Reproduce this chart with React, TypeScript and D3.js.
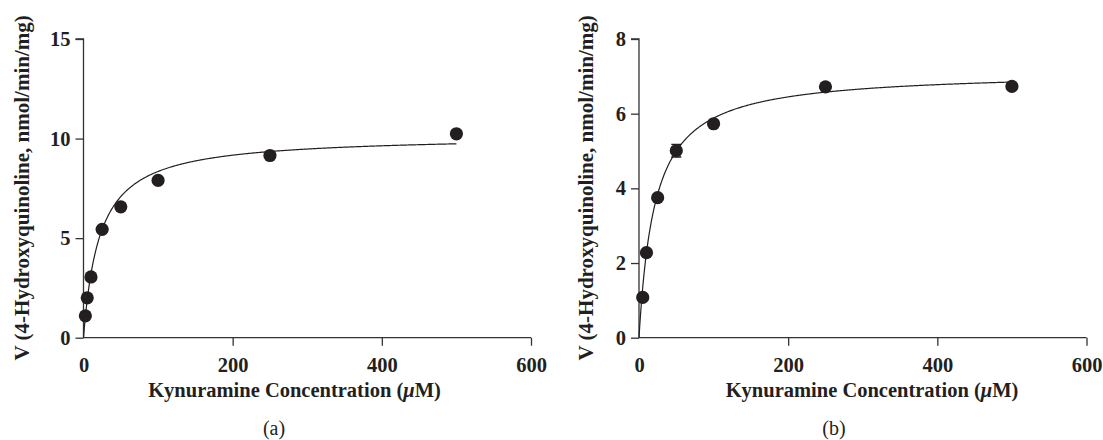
import React, {useEffect, useRef} from 'react';
import * as d3 from 'd3';

// Panel (a)
const concA = [2.5, 5, 10, 25, 50, 100, 250, 500];
const rateA = [1.1, 2.0, 3.05, 5.44, 6.57, 7.9, 9.15, 10.24];
const fitA = {vmax: 10.16, km: 21.7};

// Panel (b)
const concB = [5, 10, 25, 50, 100, 250, 500];
const rateB = [1.08, 2.28, 3.75, 5.01, 5.73, 6.72, 6.73];
const errB = [0, 0, 0, 0.17, 0, 0, 0];
const fitB = {vmax: 7.14, km: 21.4};

const xTicks = [0, 200, 400, 600];
const yTicksA = [0, 5, 10, 15];
const yTicksB = [0, 2, 4, 6, 8];

const FONT = '"Liberation Serif", "DejaVu Serif", serif';
const INK = '#231f20';
const FS = 20.5;

type Panel = {
    conc: number[];
    rate: number[];
    err: number[];
    fit: {vmax: number; km: number};
    yMax: number;
    yTicks: number[];
    left: number;
    yLabelOff: number;
    xLabelX: number;
    tag: string;
    tagX: number;
};

const panels: Panel[] = [
    {conc: concA, rate: rateA, err: concA.map(() => 0), fit: fitA, yMax: 15, yTicks: yTicksA,
        left: 83.5, yLabelOff: 61.5, xLabelX: 294.5, tag: '(a)', tagX: 274},
    {conc: concB, rate: rateB, err: errB, fit: fitB, yMax: 8, yTicks: yTicksB,
        left: 639, yLabelOff: 53, xLabelX: 872, tag: '(b)', tagX: 834},
];

const App = () => {
    const svgRef = useRef<SVGSVGElement>(null);

    useEffect(() => {
        const svg = d3.select(svgRef.current);
        svg.selectAll('*').remove();

        const top = 39;
        const bottom = 337.7;
        const plotW = 447.5;

        panels.forEach(p => {
            const x = d3.scaleLinear().domain([0, 600]).range([p.left, p.left + plotW]);
            const y = d3.scaleLinear().domain([0, p.yMax]).range([bottom, top]);
            const g = svg.append('g');

            // axes
            const yAxis = g.append('g')
                .attr('transform', `translate(${p.left},0)`)
                .call(d3.axisLeft(y).tickValues(p.yTicks).tickSize(8).tickPadding(5).tickFormat(d3.format('d')));
            const xAxis = g.append('g')
                .attr('transform', `translate(0,${bottom})`)
                .call(d3.axisBottom(x).tickValues(xTicks).tickSize(8).tickPadding(12).tickFormat(d3.format('d')));
            [yAxis, xAxis].forEach(ax => {
                ax.selectAll('path').attr('stroke', '#333').attr('stroke-width', 1.3);
                ax.selectAll('line').attr('stroke', '#333').attr('stroke-width', 1.3);
                ax.selectAll('text')
                    .attr('font-family', FONT)
                    .attr('font-weight', 'bold')
                    .attr('font-size', FS)
                    .attr('fill', INK);
            });
            xAxis.select('path').attr('d', `M${p.left},0H${p.left + plotW}`);
            xAxis.selectAll('.tick').filter((d: any) => d === 0).select('line').remove();
            yAxis.select('path').attr('d', `M-8,${top}H0V${bottom}`);

            // fitted Michaelis-Menten curve
            const curve = d3.range(0, 501, 1).map(s => [s, p.fit.vmax * s / (p.fit.km + s)]);
            g.append('path')
                .datum(curve)
                .attr('fill', 'none')
                .attr('stroke', INK)
                .attr('stroke-width', 1.2)
                .attr('d', d3.line<number[]>().x(d => x(d[0])).y(d => y(d[1])));

            // error bars
            p.conc.forEach((c, i) => {
                if (!p.err[i]) return;
                const cx = x(c);
                g.append('path')
                    .attr('fill', 'none')
                    .attr('stroke', INK)
                    .attr('stroke-width', 1.3)
                    .attr('d', `M${cx},${y(p.rate[i] + p.err[i])}V${y(p.rate[i] - p.err[i])}` +
                        `M${cx - 5},${y(p.rate[i] + p.err[i])}h10M${cx - 5},${y(p.rate[i] - p.err[i])}h10`);
            });

            // points
            g.selectAll('circle.pt')
                .data(p.conc.map((c, i) => [c, p.rate[i]]))
                .enter()
                .append('circle')
                .attr('class', 'pt')
                .attr('cx', d => x(d[0]))
                .attr('cy', d => y(d[1]))
                .attr('r', 6.6)
                .attr('fill', INK);

            // axis titles
            const xt = g.append('text')
                .attr('x', p.xLabelX)
                .attr('y', 397)
                .attr('text-anchor', 'middle')
                .attr('font-family', FONT)
                .attr('font-weight', 'bold')
                .attr('font-size', FS)
                .attr('fill', INK);
            xt.append('tspan').text('Kynuramine Concentration (');
            xt.append('tspan').attr('font-style', 'italic').text('μ');
            xt.append('tspan').text('M)');

            g.append('text')
                .attr('transform', `translate(${p.left - p.yLabelOff},${(top + bottom) / 2 - 0.5}) rotate(-90)`)
                .attr('text-anchor', 'middle')
                .attr('dy', '0.35em')
                .attr('font-family', FONT)
                .attr('font-weight', 'bold')
                .attr('font-size', 21)
                .attr('fill', INK)
                .text('V (4-Hydroxyquinoline, nmol/min/mg)');

            g.append('text')
                .attr('x', p.tagX)
                .attr('y', 435)
                .attr('text-anchor', 'middle')
                .attr('font-family', FONT)
                .attr('font-size', 20)
                .attr('fill', INK)
                .text(p.tag);
        });
    }, []);

    return (
        <svg ref={svgRef} width={1103} height={440}
             style={{position: 'absolute', left: 0, top: 0, background: '#fff'}}></svg>
    );
};

export default App;
